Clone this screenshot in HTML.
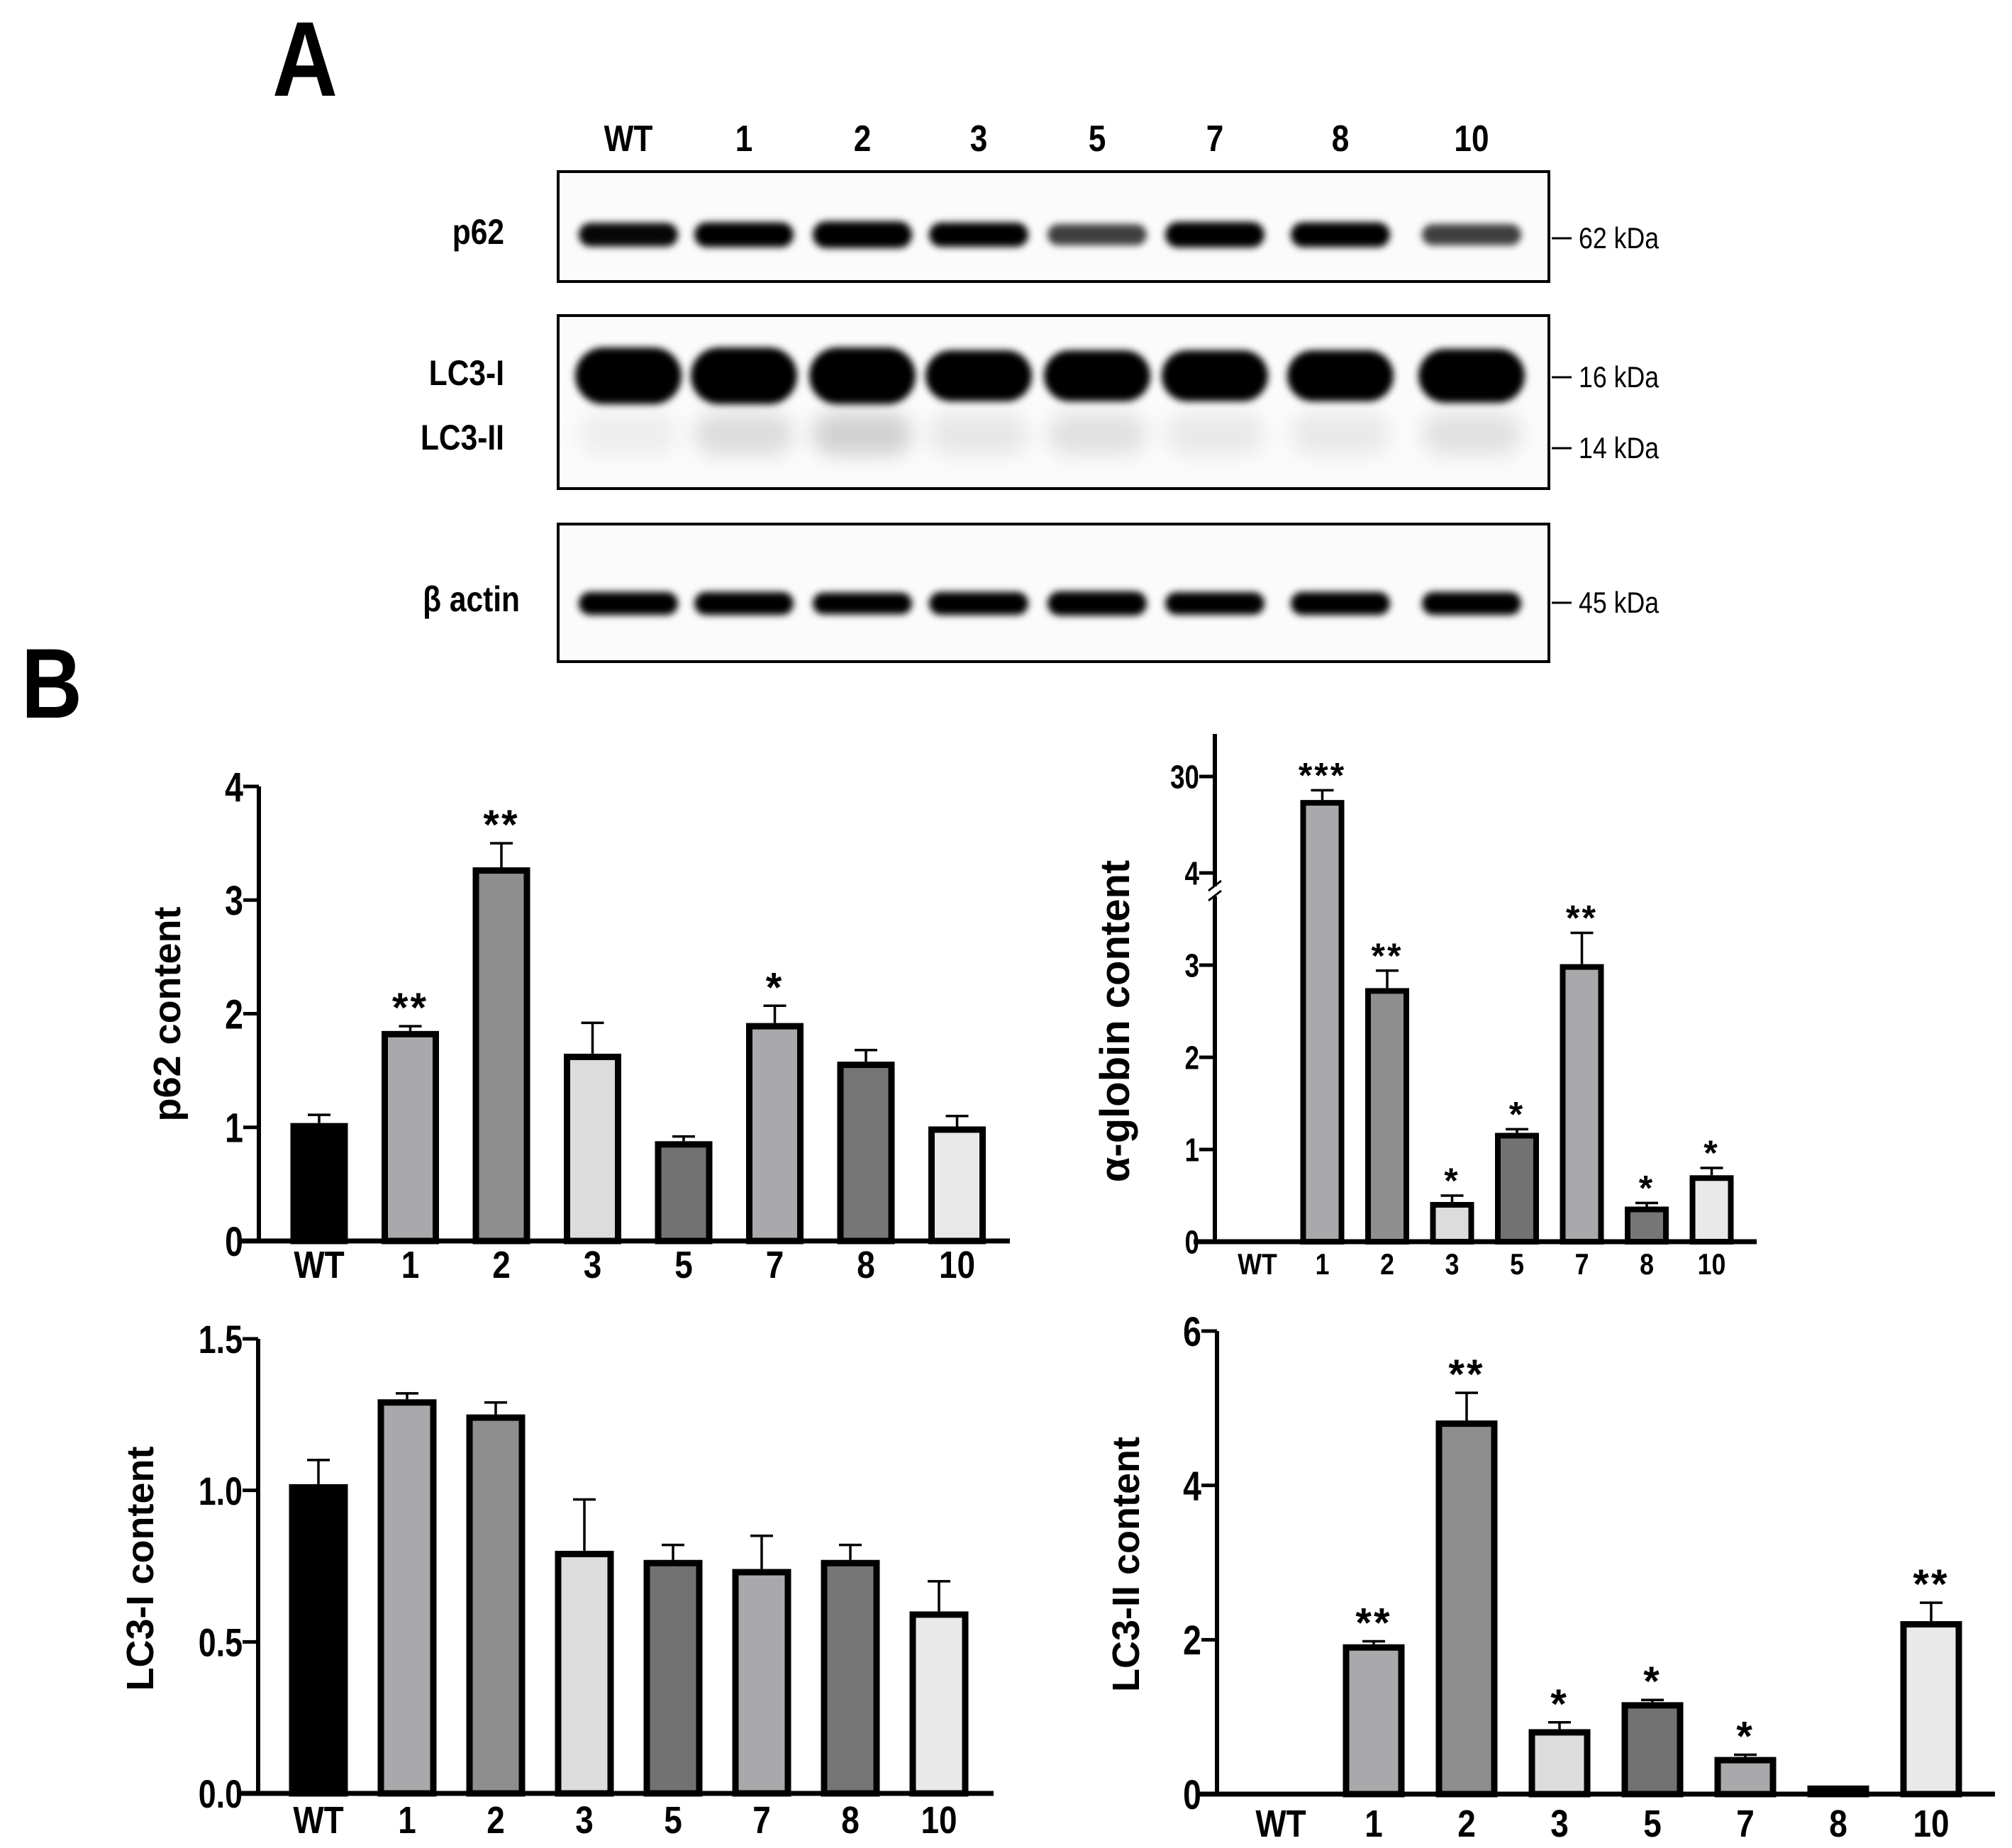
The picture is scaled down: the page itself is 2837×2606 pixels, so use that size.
<!DOCTYPE html>
<html><head><meta charset="utf-8">
<style>
html,body{margin:0;padding:0;background:#fff;}
svg{display:block;}
text{font-family:"Liberation Sans",Arial,sans-serif;}
</style></head>
<body>
<svg id="fig" width="2837" height="2606" viewBox="0 0 2837 2606" xmlns="http://www.w3.org/2000/svg">
<defs>
<filter id="blur" x="-20%" y="-50%" width="140%" height="200%"><feGaussianBlur stdDeviation="5"/></filter>
<filter id="blur2" x="-20%" y="-50%" width="140%" height="200%"><feGaussianBlur stdDeviation="14"/></filter>
</defs>
<text x="384" y="135" font-size="150" font-weight="bold" transform="translate(384,0) scale(0.85,1) translate(-384,0)">A</text>
<text x="30" y="1012" font-size="140" font-weight="bold" transform="translate(30,0) scale(0.85,1) translate(-30,0)">B</text>
<g id="blot"></g>
<g id="c1"></g>
<g id="c2"></g>
<g id="c3"></g>
<g id="c4"></g>
</svg>
<script>
const NS="http://www.w3.org/2000/svg";
const categories=["WT","1","2","3","5","7","8","10"];
const fills=["#000000","#a9a9ac","#8e8e8e","#dcdcdc","#727272","#a9a9ac","#767676","#e9e9e9"];
const p62Values=[1.01,1.82,3.26,1.62,0.85,1.89,1.55,0.98];
const p62Errors=[0.10,0.07,0.24,0.30,0.07,0.18,0.13,0.12];
const p62Stars=["","**","**","","","*","",""];
const p62Ticks=[0,1,2,3,4];
const globinValues=[0,22.9,2.72,0.40,1.15,2.98,0.35,0.69];
const globinErrors=[0,3.4,0.22,0.10,0.07,0.37,0.07,0.11];
const globinStars=["","***","**","*","*","**","*","*"];
const globinTicks=[0,1,2,3,4,30];
const lc3iValues=[1.01,1.29,1.24,0.79,0.76,0.73,0.76,0.59];
const lc3iErrors=[0.09,0.03,0.05,0.18,0.06,0.12,0.06,0.11];
const lc3iTicks=["0.0","0.5","1.0","1.5"];
const lc3iiValues=[0,1.9,4.8,0.8,1.15,0.44,0.07,2.2];
const lc3iiErrors=[0,0.08,0.4,0.13,0.07,0.07,0,0.28];
const lc3iiStars=["","**","**","*","*","*","","**"];
const lc3iiTicks=[0,2,4,6];
const p62Bands=[0.85,0.95,1.1,0.9,0.65,1.0,0.95,0.65];
const lc3iBands=[1.0,1.0,1.0,0.9,0.9,0.9,0.9,0.95];
const lc3iiBands=[0.05,0.12,0.17,0.08,0.1,0.07,0.07,0.1];
const actinBands=[0.9,0.9,0.85,0.9,0.95,0.88,0.9,0.9];

function el(tag,attrs,parent,txt){const e=document.createElementNS(NS,tag);for(const k in attrs)e.setAttribute(k,attrs[k]);if(txt!==undefined)e.textContent=txt;parent.appendChild(e);return e;}

function chart(g,o){
  const y=o.scale;
  const ax=el('line',{x1:o.ax,y1:o.top,x2:o.ax,y2:o.base+3,stroke:'#000','stroke-width':6},g);
  
  
  const bl=el('line',{x1:o.ax-30,y1:o.base,x2:o.xend,y2:o.base,stroke:'#000','stroke-width':7},g);
  
  
  o.ticks.forEach(t=>{
    const v=parseFloat(t),yy=y(v);
    const tk=el('line',{x1:o.ax-22,y1:yy,x2:o.ax,y2:yy,stroke:'#000','stroke-width':5},g);
    
    
    const tx=el('text',{x:0,y:0,'font-size':o.tfs,'font-weight':'bold','text-anchor':'end',transform:`translate(${o.ax-22},${yy+o.tfs*0.36}) scale(0.8,1)`},g,String(t));
    
    
  });
  categories.forEach((c,i)=>{
    const cx=o.x0+i*o.step;
    const lb=el('text',{x:0,y:0,'font-size':o.xfs,'font-weight':'bold','text-anchor':'middle',transform:`translate(${cx},${o.xly}) scale(0.85,1)`},g,c);
    
    
    const v=o.values[i];
    if(v>0){
      const yt=y(v),h=o.base-yt;
      const r=el('rect',{x:cx-o.bw/2,y:yt,width:o.bw,height:Math.max(h,4),fill:fills[i],stroke:'#000','stroke-width':o.sw},g);
      
      
      const e=o.errors[i];
      if(e>0){
        const ye=y(v+e);
        const l=el('path',{d:`M${cx},${yt-o.sw/2} V${ye} M${cx-16},${ye} H${cx+16}`,stroke:'#000','stroke-width':3.5,fill:'none'},g);
        
        
      }
      if(o.stars&&o.stars[i]){
        const s=el('text',{x:cx,y:y(v+e)-o.sgap,'font-size':o.sfs,'font-weight':'bold','text-anchor':'middle','letter-spacing':'3'},g,o.stars[i]);
        
        
      }
    }
  });
  const yt=el('text',{x:0,y:0,'font-size':o.yfs,'font-weight':'bold','text-anchor':'middle',transform:`translate(${o.ytx},${o.yty}) rotate(-90)`},g,o.title);
  
  
}

chart(document.getElementById('c1'),{ax:365,top:1109,base:1750,xend:1424,x0:450,step:128.5,bw:72,sw:9,
  scale:v=>1750-v*(1750-1109)/4,ticks:p62Ticks,values:p62Values,errors:p62Errors,stars:p62Stars,
  tfs:58,xfs:54,xly:1802,sfs:58,sgap:6,yfs:54,ytx:254,yty:1430,title:"p62 content"});
chart(document.getElementById('c2'),{ax:1713,top:1035,base:1751,xend:2477,x0:1773,step:91.5,bw:54,sw:8,
  scale:v=>v<=4?1751-v*130:1231-(v-4)*136/26,ticks:globinTicks,values:globinValues,errors:globinErrors,stars:globinStars,
  tfs:46,xfs:42,xly:1797,sfs:50,sgap:4,yfs:58,ytx:1592,yty:1440,title:"α-globin content"});
(function(){const g=document.getElementById('c2');
 const wh=el('rect',{x:1706,y:1250,width:14,height:14,fill:'#fff'},g);
 
 
 const bk=el('path',{d:'M1704,1256 L1722,1242 M1704,1270 L1722,1256',stroke:'#000','stroke-width':3,fill:'none'},g);
 
 })();
chart(document.getElementById('c3'),{ax:364,top:1888,base:2529,xend:1401,x0:449,step:125,bw:74,sw:9,
  scale:v=>2529-v*(2529-1888)/1.5,ticks:lc3iTicks,values:lc3iValues,errors:lc3iErrors,stars:null,
  tfs:56,xfs:54,xly:2585,sfs:58,sgap:6,yfs:54,ytx:216,yty:2212,title:"LC3-I content"});
chart(document.getElementById('c4'),{ax:1716,top:1877,base:2530,xend:2813,x0:1806,step:131,bw:78,sw:9,
  scale:v=>2530-v*(2530-1877)/6,ticks:lc3iiTicks,values:lc3iiValues,errors:lc3iiErrors,stars:lc3iiStars,
  tfs:58,xfs:54,xly:2590,sfs:58,sgap:6,yfs:54,ytx:1606,yty:2206,title:"LC3-II content"});

(function(){
 const g=document.getElementById('blot');
 const lanes=[886,1049,1216,1380,1547,1713,1890,2075];
 categories.forEach((c,i)=>{
   const t=el('text',{x:0,y:0,'font-size':52,'font-weight':'bold','text-anchor':'middle',transform:`translate(${lanes[i]},213) scale(0.85,1)`},g,c);
   
   
 });
 const boxes=[[242,397,'p62-blot'],[445,689,'lc3-blot'],[739,933,'actin-blot']];
 boxes.forEach(b=>{
   const r=el('rect',{x:787,y:b[0],width:1397,height:b[1]-b[0],fill:'#fbfbfb',stroke:'#000','stroke-width':4},g);
   
   
 });
 function band(cx,cy,w,h,op,name,f){
   const e=el('rect',{x:cx-w/2,y:cy-h/2,width:w,height:h,rx:h/2,fill:'#000','fill-opacity':Math.min(op,1),filter:'url(#'+(f||'blur')+')'},g);
   
   
 }
 lanes.forEach((x,i)=>{
   band(x,331,140,18+18*p62Bands[i],Math.min(1,p62Bands[i]*1.15),'p62-band-'+categories[i]);
   band(x,530,150,80*lc3iBands[i],1,'lc3-i-band-'+categories[i]);
   band(x,612,140,60,lc3iiBands[i],'lc3-ii-band-'+categories[i],'blur2');
   band(x,851,140,36*actinBands[i],1,'actin-band-'+categories[i]);
 });
 const labels=[["p62",711,344],["LC3-I",711,543],["LC3-II",711,634],["β actin",733,862]];
 labels.forEach(l=>{
   const t=el('text',{x:0,y:0,'font-size':50,'font-weight':'bold','text-anchor':'end',transform:`translate(${l[1]},${l[2]}) scale(0.85,1)`},g,l[0]);
   
   
 });
 const mk=[["62 kDa",336],["16 kDa",532],["14 kDa",632],["45 kDa",850]];
 mk.forEach(m=>{
   const l=el('line',{x1:2188,y1:m[1],x2:2216,y2:m[1],stroke:'#000','stroke-width':3},g);
   
   
   const t=el('text',{x:0,y:0,'font-size':42,transform:`translate(2226,${m[1]+14}) scale(0.85,1)`},g,m[0]);
   
   
 });
})();
</script>
</body></html>
